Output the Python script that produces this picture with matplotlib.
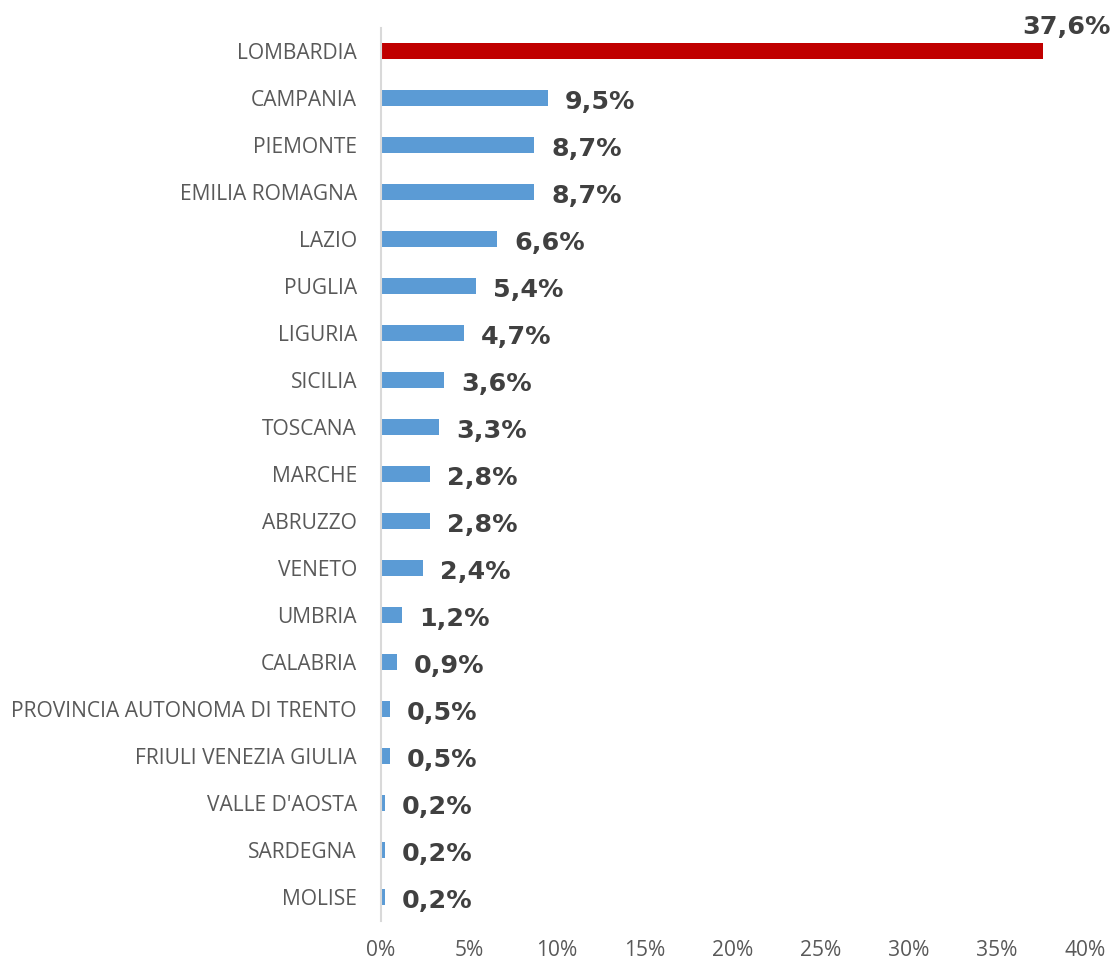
import matplotlib
matplotlib.use("Agg")
import matplotlib.pyplot as plt

categories = ["LOMBARDIA", "CAMPANIA", "PIEMONTE", "EMILIA ROMAGNA", "LAZIO", "PUGLIA",
              "LIGURIA", "SICILIA", "TOSCANA", "MARCHE", "ABRUZZO", "VENETO", "UMBRIA",
              "CALABRIA", "PROVINCIA AUTONOMA DI TRENTO", "FRIULI VENEZIA GIULIA",
              "VALLE D'AOSTA", "SARDEGNA", "MOLISE"]
values = [37.6, 9.5, 8.7, 8.7, 6.6, 5.4, 4.7, 3.6, 3.3, 2.8, 2.8, 2.4, 1.2, 0.9, 0.5, 0.5, 0.2, 0.2, 0.2]
xticks = [0, 5, 10, 15, 20, 25, 30, 35, 40]

fig = plt.figure(figsize=(11.13, 9.6), dpi=100)
ax = fig.add_axes([381/1113, (960-920.5)/960, (1085-381)/1113, 893/960])

ypos = list(range(len(categories)))
colors = ["#C00000"] + ["#5B9BD5"] * (len(categories) - 1)
ax.barh(ypos, values, height=0.36, color=colors, zorder=2)
ax.set_ylim(len(categories) - 0.5, -0.5)
ax.set_xlim(0, 40)

ax.set_yticks(ypos)
ax.set_yticklabels(categories, fontfamily="Open Sans", fontsize=15.1, color="#595959")
ax.set_xticks(xticks)
ax.set_xticklabels([f"{t}%" for t in xticks], fontfamily="Open Sans", fontsize=15.1, color="#595959")
ax.tick_params(axis="y", length=0, pad=17.3)
ax.tick_params(axis="x", length=0, pad=14)

for s in ["top", "right", "bottom"]:
    ax.spines[s].set_visible(False)
ax.spines["left"].set_color("#D9D9D9")
ax.spines["left"].set_linewidth(1.5)

for i, v in enumerate(values):
    lab = f"{v:.1f}%".replace(".", ",")
    if i == 0:
        ax.annotate(lab, (v, i), xytext=(-21, 24), textcoords="offset pixels",
                    ha="left", va="center", fontsize=18.3, fontweight="bold",
                    color="#404040", annotation_clip=False)
    else:
        ax.annotate(lab, (v, i), xytext=(17, -4), textcoords="offset pixels",
                    ha="left", va="center", fontsize=18.3, fontweight="bold",
                    color="#404040", annotation_clip=False)

fig.savefig("out.png", dpi=100)
